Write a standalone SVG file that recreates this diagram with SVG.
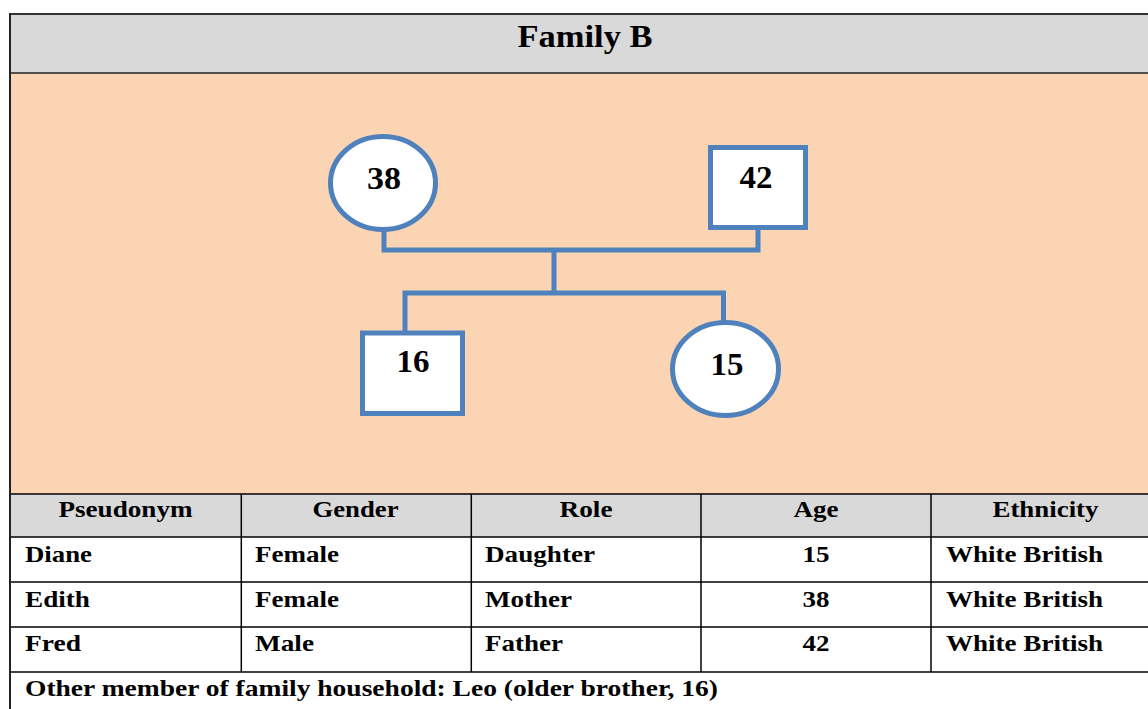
<svg xmlns="http://www.w3.org/2000/svg" width="1148" height="709" viewBox="0 0 1148 709">
  <style>
    text { font-family: "Liberation Serif", "Times New Roman", serif; font-weight: bold; fill: #000; }
    .t { font-size: 24px; }
    .c { text-anchor: middle; }
    .node { fill: #ffffff; stroke: #4f81bd; stroke-width: 5; }
    .num { font-size: 31px; text-anchor: middle; }
    .conn { fill: none; stroke: #4f81bd; stroke-width: 5; stroke-linejoin: miter; }
    .grid { stroke: #000; stroke-width: 1.5; fill: none; }
  </style>
  <rect x="0" y="0" width="1148" height="709" fill="#ffffff"/>
  <!-- title band -->
  <g id="title">
    <rect x="10" y="14" width="1150" height="59" fill="#d9d9d9"/>
    <text x="585" y="47" font-size="32" text-anchor="middle" textLength="135" lengthAdjust="spacingAndGlyphs">Family B</text>
  </g>
  <!-- pedigree area -->
  <rect x="10" y="73" width="1150" height="421" fill="#fbd4b4"/>
  <g id="connectors">
    <path class="conn" d="M384,229 V250 H758 V227"/>
    <path class="conn" d="M554,250 V293"/>
    <path class="conn" d="M405,333 V293 H723.5 V322"/>
  </g>
  <g id="node-38">
    <ellipse class="node" cx="383" cy="183" rx="52.5" ry="46.5"/>
    <text class="num" x="384" y="189" textLength="34" lengthAdjust="spacingAndGlyphs">38</text>
  </g>
  <g id="node-42">
    <rect class="node" x="710.5" y="147.5" width="95" height="80"/>
    <text class="num" x="756" y="188" textLength="33" lengthAdjust="spacingAndGlyphs">42</text>
  </g>
  <g id="node-16">
    <rect class="node" x="362.5" y="333" width="100" height="80.5"/>
    <text class="num" x="413" y="372" textLength="33" lengthAdjust="spacingAndGlyphs">16</text>
  </g>
  <g id="node-15">
    <ellipse class="node" cx="725.5" cy="369" rx="53" ry="46.5"/>
    <text class="num" x="727" y="375" textLength="33" lengthAdjust="spacingAndGlyphs">15</text>
  </g>
  <!-- table -->
  <g id="table">
    <rect x="10" y="494" width="1150" height="43" fill="#d9d9d9"/>
    <rect x="10" y="537" width="1150" height="172" fill="#ffffff"/>
    <line class="grid" x1="10" y1="494" x2="1148" y2="494"/>
    <line class="grid" x1="10" y1="537" x2="1148" y2="537"/>
    <line class="grid" x1="10" y1="582" x2="1148" y2="582"/>
    <line class="grid" x1="10" y1="627" x2="1148" y2="627"/>
    <line class="grid" x1="10" y1="672" x2="1148" y2="672"/>
    <line class="grid" x1="241.3" y1="494" x2="241.3" y2="672"/>
    <line class="grid" x1="471.3" y1="494" x2="471.3" y2="672"/>
    <line class="grid" x1="701" y1="494" x2="701" y2="672"/>
    <line class="grid" x1="931" y1="494" x2="931" y2="672"/>
    <text class="t c" x="125.5" y="517" textLength="134" lengthAdjust="spacingAndGlyphs">Pseudonym</text>
    <text class="t c" x="355.5" y="517" textLength="86" lengthAdjust="spacingAndGlyphs">Gender</text>
    <text class="t c" x="586" y="517" textLength="53" lengthAdjust="spacingAndGlyphs">Role</text>
    <text class="t c" x="816" y="517" textLength="45" lengthAdjust="spacingAndGlyphs">Age</text>
    <text class="t c" x="1045.5" y="517" textLength="106" lengthAdjust="spacingAndGlyphs">Ethnicity</text>

    <text class="t" x="25" y="562" textLength="67" lengthAdjust="spacingAndGlyphs">Diane</text>
    <text class="t" x="255" y="562" textLength="84" lengthAdjust="spacingAndGlyphs">Female</text>
    <text class="t" x="485" y="562" textLength="110" lengthAdjust="spacingAndGlyphs">Daughter</text>
    <text class="t c" x="816" y="562" textLength="27" lengthAdjust="spacingAndGlyphs">15</text>
    <text class="t" x="946" y="562" textLength="157" lengthAdjust="spacingAndGlyphs">White British</text>

    <text class="t" x="25" y="607" textLength="65" lengthAdjust="spacingAndGlyphs">Edith</text>
    <text class="t" x="255" y="607" textLength="84" lengthAdjust="spacingAndGlyphs">Female</text>
    <text class="t" x="485" y="607" textLength="87" lengthAdjust="spacingAndGlyphs">Mother</text>
    <text class="t c" x="816" y="607" textLength="27" lengthAdjust="spacingAndGlyphs">38</text>
    <text class="t" x="946" y="607" textLength="157" lengthAdjust="spacingAndGlyphs">White British</text>

    <text class="t" x="25" y="651" textLength="56" lengthAdjust="spacingAndGlyphs">Fred</text>
    <text class="t" x="255" y="651" textLength="59" lengthAdjust="spacingAndGlyphs">Male</text>
    <text class="t" x="485" y="651" textLength="78" lengthAdjust="spacingAndGlyphs">Father</text>
    <text class="t c" x="816" y="651" textLength="27" lengthAdjust="spacingAndGlyphs">42</text>
    <text class="t" x="946" y="651" textLength="157" lengthAdjust="spacingAndGlyphs">White British</text>

    <text class="t" x="25" y="696" textLength="693" lengthAdjust="spacingAndGlyphs">Other member of family household: Leo (older brother, 16)</text>
  </g>
  <!-- outer frame -->
  <g id="frame">
    <line x1="10" y1="14" x2="1148" y2="14" stroke="#333" stroke-width="2"/>
    <line x1="10" y1="73" x2="1148" y2="73" stroke="#222" stroke-width="1.5"/>
    <line x1="10" y1="13" x2="10" y2="709" stroke="#222" stroke-width="2"/>
  </g>
</svg>
